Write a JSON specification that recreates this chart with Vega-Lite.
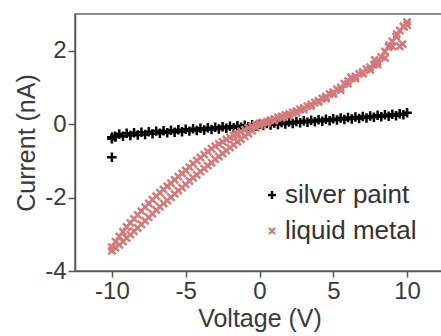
{
  "$schema": "https://vega.github.io/schema/vega-lite/v6.json",
  "width": 369,
  "height": 257,
  "autosize": {"type": "none"},
  "padding": {"left": 75, "top": 14, "right": 0, "bottom": 65},
  "background": "white",
  "config": {
    "font": "Liberation Sans",
    "view": {"stroke": "#666666", "strokeWidth": 1.5},
    "axis": {
      "grid": false,
      "domainColor": "#555555",
      "domainWidth": 1.5,
      "tickColor": "#555555",
      "tickWidth": 1.5,
      "labelColor": "#3a3a3a",
      "titleColor": "#3a3a3a",
      "labelFont": "Liberation Sans",
      "titleFont": "Liberation Sans",
      "titleFontWeight": "normal"
    }
  },
  "data": {
    "values": [
      {"v": -10, "c": -0.9, "s": "silver paint"},
      {"v": -10, "c": -0.4, "s": "silver paint"},
      {"v": -9.8, "c": -0.33, "s": "silver paint"},
      {"v": -10, "c": -0.36, "s": "silver paint"},
      {"v": -9.5, "c": -0.27, "s": "silver paint"},
      {"v": -9, "c": -0.25, "s": "silver paint"},
      {"v": -8.5, "c": -0.235, "s": "silver paint"},
      {"v": -8, "c": -0.22, "s": "silver paint"},
      {"v": -7.5, "c": -0.205, "s": "silver paint"},
      {"v": -7, "c": -0.19, "s": "silver paint"},
      {"v": -6.5, "c": -0.18, "s": "silver paint"},
      {"v": -6, "c": -0.165, "s": "silver paint"},
      {"v": -5.5, "c": -0.15, "s": "silver paint"},
      {"v": -5, "c": -0.14, "s": "silver paint"},
      {"v": -4.5, "c": -0.125, "s": "silver paint"},
      {"v": -4, "c": -0.11, "s": "silver paint"},
      {"v": -3.5, "c": -0.1, "s": "silver paint"},
      {"v": -3, "c": -0.085, "s": "silver paint"},
      {"v": -2.5, "c": -0.07, "s": "silver paint"},
      {"v": -2, "c": -0.06, "s": "silver paint"},
      {"v": -1.5, "c": -0.045, "s": "silver paint"},
      {"v": -1, "c": -0.03, "s": "silver paint"},
      {"v": -0.5, "c": -0.015, "s": "silver paint"},
      {"v": 0, "c": 0.0, "s": "silver paint"},
      {"v": 0.5, "c": 0.015, "s": "silver paint"},
      {"v": 1, "c": 0.03, "s": "silver paint"},
      {"v": 1.5, "c": 0.045, "s": "silver paint"},
      {"v": 2, "c": 0.06, "s": "silver paint"},
      {"v": 2.5, "c": 0.075, "s": "silver paint"},
      {"v": 3, "c": 0.09, "s": "silver paint"},
      {"v": 3.5, "c": 0.105, "s": "silver paint"},
      {"v": 4, "c": 0.12, "s": "silver paint"},
      {"v": 4.5, "c": 0.135, "s": "silver paint"},
      {"v": 5, "c": 0.15, "s": "silver paint"},
      {"v": 5.5, "c": 0.165, "s": "silver paint"},
      {"v": 6, "c": 0.18, "s": "silver paint"},
      {"v": 6.5, "c": 0.195, "s": "silver paint"},
      {"v": 7, "c": 0.21, "s": "silver paint"},
      {"v": 7.5, "c": 0.225, "s": "silver paint"},
      {"v": 8, "c": 0.24, "s": "silver paint"},
      {"v": 8.5, "c": 0.255, "s": "silver paint"},
      {"v": 9, "c": 0.27, "s": "silver paint"},
      {"v": 9.5, "c": 0.285, "s": "silver paint"},
      {"v": 10, "c": 0.31, "s": "silver paint"},
      {"v": -9.75, "c": -0.35, "s": "silver paint"},
      {"v": -9.25, "c": -0.33, "s": "silver paint"},
      {"v": -8.75, "c": -0.31, "s": "silver paint"},
      {"v": -8.25, "c": -0.295, "s": "silver paint"},
      {"v": -7.75, "c": -0.28, "s": "silver paint"},
      {"v": -7.25, "c": -0.265, "s": "silver paint"},
      {"v": -6.75, "c": -0.25, "s": "silver paint"},
      {"v": -6.25, "c": -0.235, "s": "silver paint"},
      {"v": -5.75, "c": -0.22, "s": "silver paint"},
      {"v": -5.25, "c": -0.205, "s": "silver paint"},
      {"v": -4.75, "c": -0.19, "s": "silver paint"},
      {"v": -4.25, "c": -0.175, "s": "silver paint"},
      {"v": -3.75, "c": -0.16, "s": "silver paint"},
      {"v": -3.25, "c": -0.145, "s": "silver paint"},
      {"v": -2.75, "c": -0.13, "s": "silver paint"},
      {"v": -2.25, "c": -0.115, "s": "silver paint"},
      {"v": -1.75, "c": -0.1, "s": "silver paint"},
      {"v": -1.25, "c": -0.085, "s": "silver paint"},
      {"v": -0.75, "c": -0.07, "s": "silver paint"},
      {"v": -0.25, "c": -0.055, "s": "silver paint"},
      {"v": 0.25, "c": -0.04, "s": "silver paint"},
      {"v": 0.75, "c": -0.025, "s": "silver paint"},
      {"v": 1.25, "c": -0.01, "s": "silver paint"},
      {"v": 1.75, "c": 0.005, "s": "silver paint"},
      {"v": 2.25, "c": 0.02, "s": "silver paint"},
      {"v": 2.75, "c": 0.035, "s": "silver paint"},
      {"v": 3.25, "c": 0.05, "s": "silver paint"},
      {"v": 3.75, "c": 0.065, "s": "silver paint"},
      {"v": 4.25, "c": 0.08, "s": "silver paint"},
      {"v": 4.75, "c": 0.095, "s": "silver paint"},
      {"v": 5.25, "c": 0.11, "s": "silver paint"},
      {"v": 5.75, "c": 0.125, "s": "silver paint"},
      {"v": 6.25, "c": 0.14, "s": "silver paint"},
      {"v": 6.75, "c": 0.155, "s": "silver paint"},
      {"v": 7.25, "c": 0.17, "s": "silver paint"},
      {"v": 7.75, "c": 0.185, "s": "silver paint"},
      {"v": 8.25, "c": 0.2, "s": "silver paint"},
      {"v": 8.75, "c": 0.215, "s": "silver paint"},
      {"v": 9.25, "c": 0.23, "s": "silver paint"},
      {"v": 9.75, "c": 0.255, "s": "silver paint"},
      {"v": -10, "c": -3.35, "s": "liquid metal"},
      {"v": -9.75, "c": -3.2, "s": "liquid metal"},
      {"v": -9.5, "c": -3.06, "s": "liquid metal"},
      {"v": -9.25, "c": -2.93, "s": "liquid metal"},
      {"v": -9, "c": -2.8, "s": "liquid metal"},
      {"v": -8.75, "c": -2.69, "s": "liquid metal"},
      {"v": -8.5, "c": -2.58, "s": "liquid metal"},
      {"v": -8.25, "c": -2.47, "s": "liquid metal"},
      {"v": -8, "c": -2.37, "s": "liquid metal"},
      {"v": -7.75, "c": -2.26, "s": "liquid metal"},
      {"v": -7.5, "c": -2.16, "s": "liquid metal"},
      {"v": -7.25, "c": -2.06, "s": "liquid metal"},
      {"v": -7, "c": -1.96, "s": "liquid metal"},
      {"v": -6.75, "c": -1.87, "s": "liquid metal"},
      {"v": -6.5, "c": -1.78, "s": "liquid metal"},
      {"v": -6.25, "c": -1.69, "s": "liquid metal"},
      {"v": -6, "c": -1.61, "s": "liquid metal"},
      {"v": -5.75, "c": -1.52, "s": "liquid metal"},
      {"v": -5.5, "c": -1.43, "s": "liquid metal"},
      {"v": -5.25, "c": -1.34, "s": "liquid metal"},
      {"v": -5, "c": -1.26, "s": "liquid metal"},
      {"v": -4.75, "c": -1.17, "s": "liquid metal"},
      {"v": -4.5, "c": -1.08, "s": "liquid metal"},
      {"v": -4.25, "c": -0.99, "s": "liquid metal"},
      {"v": -4, "c": -0.91, "s": "liquid metal"},
      {"v": -3.75, "c": -0.83, "s": "liquid metal"},
      {"v": -3.5, "c": -0.75, "s": "liquid metal"},
      {"v": -3.25, "c": -0.67, "s": "liquid metal"},
      {"v": -3, "c": -0.6, "s": "liquid metal"},
      {"v": -2.75, "c": -0.54, "s": "liquid metal"},
      {"v": -2.5, "c": -0.48, "s": "liquid metal"},
      {"v": -2.25, "c": -0.42, "s": "liquid metal"},
      {"v": -2, "c": -0.36, "s": "liquid metal"},
      {"v": -1.75, "c": -0.31, "s": "liquid metal"},
      {"v": -1.5, "c": -0.26, "s": "liquid metal"},
      {"v": -1.25, "c": -0.2, "s": "liquid metal"},
      {"v": -1, "c": -0.15, "s": "liquid metal"},
      {"v": -0.75, "c": -0.1, "s": "liquid metal"},
      {"v": -0.5, "c": -0.06, "s": "liquid metal"},
      {"v": -0.25, "c": -0.02, "s": "liquid metal"},
      {"v": 0, "c": 0.02, "s": "liquid metal"},
      {"v": -10, "c": -3.45, "s": "liquid metal"},
      {"v": -9.75, "c": -3.37, "s": "liquid metal"},
      {"v": -9.5, "c": -3.29, "s": "liquid metal"},
      {"v": -9.25, "c": -3.2, "s": "liquid metal"},
      {"v": -9, "c": -3.1, "s": "liquid metal"},
      {"v": -8.75, "c": -3.01, "s": "liquid metal"},
      {"v": -8.5, "c": -2.92, "s": "liquid metal"},
      {"v": -8.25, "c": -2.83, "s": "liquid metal"},
      {"v": -8, "c": -2.73, "s": "liquid metal"},
      {"v": -7.75, "c": -2.63, "s": "liquid metal"},
      {"v": -7.5, "c": -2.54, "s": "liquid metal"},
      {"v": -7.25, "c": -2.44, "s": "liquid metal"},
      {"v": -7, "c": -2.34, "s": "liquid metal"},
      {"v": -6.75, "c": -2.25, "s": "liquid metal"},
      {"v": -6.5, "c": -2.16, "s": "liquid metal"},
      {"v": -6.25, "c": -2.08, "s": "liquid metal"},
      {"v": -6, "c": -1.99, "s": "liquid metal"},
      {"v": -5.75, "c": -1.9, "s": "liquid metal"},
      {"v": -5.5, "c": -1.81, "s": "liquid metal"},
      {"v": -5.25, "c": -1.73, "s": "liquid metal"},
      {"v": -5, "c": -1.64, "s": "liquid metal"},
      {"v": -4.75, "c": -1.55, "s": "liquid metal"},
      {"v": -4.5, "c": -1.46, "s": "liquid metal"},
      {"v": -4.25, "c": -1.38, "s": "liquid metal"},
      {"v": -4, "c": -1.29, "s": "liquid metal"},
      {"v": -3.75, "c": -1.21, "s": "liquid metal"},
      {"v": -3.5, "c": -1.13, "s": "liquid metal"},
      {"v": -3.25, "c": -1.05, "s": "liquid metal"},
      {"v": -3, "c": -0.96, "s": "liquid metal"},
      {"v": -2.75, "c": -0.88, "s": "liquid metal"},
      {"v": -2.5, "c": -0.8, "s": "liquid metal"},
      {"v": -2.25, "c": -0.72, "s": "liquid metal"},
      {"v": -2, "c": -0.64, "s": "liquid metal"},
      {"v": -1.75, "c": -0.56, "s": "liquid metal"},
      {"v": -1.5, "c": -0.48, "s": "liquid metal"},
      {"v": -1.25, "c": -0.41, "s": "liquid metal"},
      {"v": -1, "c": -0.33, "s": "liquid metal"},
      {"v": -0.75, "c": -0.26, "s": "liquid metal"},
      {"v": -0.5, "c": -0.18, "s": "liquid metal"},
      {"v": -0.25, "c": -0.1, "s": "liquid metal"},
      {"v": 0, "c": -0.03, "s": "liquid metal"},
      {"v": 0.25, "c": 0.04, "s": "liquid metal"},
      {"v": 0.5, "c": 0.07, "s": "liquid metal"},
      {"v": 0.75, "c": 0.11, "s": "liquid metal"},
      {"v": 1, "c": 0.14, "s": "liquid metal"},
      {"v": 1.25, "c": 0.18, "s": "liquid metal"},
      {"v": 1.5, "c": 0.21, "s": "liquid metal"},
      {"v": 1.75, "c": 0.25, "s": "liquid metal"},
      {"v": 2, "c": 0.28, "s": "liquid metal"},
      {"v": 2.25, "c": 0.32, "s": "liquid metal"},
      {"v": 2.5, "c": 0.35, "s": "liquid metal"},
      {"v": 2.75, "c": 0.4, "s": "liquid metal"},
      {"v": 3, "c": 0.44, "s": "liquid metal"},
      {"v": 3.25, "c": 0.49, "s": "liquid metal"},
      {"v": 3.5, "c": 0.54, "s": "liquid metal"},
      {"v": 3.75, "c": 0.59, "s": "liquid metal"},
      {"v": 4, "c": 0.64, "s": "liquid metal"},
      {"v": 4.25, "c": 0.7, "s": "liquid metal"},
      {"v": 4.5, "c": 0.75, "s": "liquid metal"},
      {"v": 4.75, "c": 0.82, "s": "liquid metal"},
      {"v": 5, "c": 0.87, "s": "liquid metal"},
      {"v": 5.25, "c": 0.95, "s": "liquid metal"},
      {"v": 5.5, "c": 1.0, "s": "liquid metal"},
      {"v": 5.75, "c": 1.1, "s": "liquid metal"},
      {"v": 6, "c": 1.18, "s": "liquid metal"},
      {"v": 6.25, "c": 1.25, "s": "liquid metal"},
      {"v": 6.5, "c": 1.3, "s": "liquid metal"},
      {"v": 6.75, "c": 1.37, "s": "liquid metal"},
      {"v": 7, "c": 1.42, "s": "liquid metal"},
      {"v": 7.25, "c": 1.5, "s": "liquid metal"},
      {"v": 7.5, "c": 1.55, "s": "liquid metal"},
      {"v": 7.75, "c": 1.62, "s": "liquid metal"},
      {"v": 8, "c": 1.7, "s": "liquid metal"},
      {"v": 8.25, "c": 1.83, "s": "liquid metal"},
      {"v": 8.5, "c": 1.98, "s": "liquid metal"},
      {"v": 8.75, "c": 2.1, "s": "liquid metal"},
      {"v": 9, "c": 2.25, "s": "liquid metal"},
      {"v": 9.25, "c": 2.38, "s": "liquid metal"},
      {"v": 9.5, "c": 2.55, "s": "liquid metal"},
      {"v": 9.75, "c": 2.66, "s": "liquid metal"},
      {"v": 10, "c": 2.78, "s": "liquid metal"},
      {"v": 0.5, "c": 0.03, "s": "liquid metal"},
      {"v": 1, "c": 0.1, "s": "liquid metal"},
      {"v": 1.5, "c": 0.17, "s": "liquid metal"},
      {"v": 2, "c": 0.24, "s": "liquid metal"},
      {"v": 2.5, "c": 0.31, "s": "liquid metal"},
      {"v": 3, "c": 0.4, "s": "liquid metal"},
      {"v": 3.5, "c": 0.49, "s": "liquid metal"},
      {"v": 4, "c": 0.6, "s": "liquid metal"},
      {"v": 4.5, "c": 0.7, "s": "liquid metal"},
      {"v": 5, "c": 0.82, "s": "liquid metal"},
      {"v": 5.5, "c": 0.93, "s": "liquid metal"},
      {"v": 6, "c": 1.1, "s": "liquid metal"},
      {"v": 6.5, "c": 1.24, "s": "liquid metal"},
      {"v": 7, "c": 1.38, "s": "liquid metal"},
      {"v": 7.5, "c": 1.48, "s": "liquid metal"},
      {"v": 8, "c": 1.62, "s": "liquid metal"},
      {"v": 8.5, "c": 1.8, "s": "liquid metal"},
      {"v": 9, "c": 2.12, "s": "liquid metal"},
      {"v": 9.5, "c": 2.12, "s": "liquid metal"},
      {"v": 10, "c": 2.7, "s": "liquid metal"},
      {"v": 9.7, "c": 2.18, "s": "liquid metal"},
      {"v": 9.3, "c": 2.45, "s": "liquid metal"},
      {"v": 8.8, "c": 2.15, "s": "liquid metal"},
      {"v": 7.8, "c": 1.75, "s": "liquid metal"},
      {"v": 6.2, "c": 1.28, "s": "liquid metal"},
      {"v": 9.8, "c": 2.65, "s": "liquid metal"}
    ]
  },
  "mark": {"type": "point", "filled": false, "strokeWidth": 2.5, "opacity": 1, "size": 90},
  "encoding": {
    "x": {
      "field": "v",
      "type": "quantitative",
      "title": "Voltage (V)",
      "scale": {"domain": [-12.5, 12.5], "nice": false},
      "axis": {"values": [-10, -5, 0, 5, 10], "labelExpr": "datum.value + ''", "labelFontSize": 24, "titleFontSize": 25, "tickSize": 6, "labelPadding": 2, "titlePadding": 3, "labelFlush": false}
    },
    "y": {
      "field": "c",
      "type": "quantitative",
      "title": "Current (nA)",
      "scale": {"domain": [-4, 3], "nice": false},
      "axis": {"values": [-4, -2, 0, 2], "labelExpr": "datum.value + ''", "labelFontSize": 24, "titleFontSize": 25, "tickSize": 7, "labelPadding": 2, "titlePadding": 5, "labelFlush": false}
    },
    "color": {
      "field": "s",
      "type": "nominal",
      "scale": {"domain": ["silver paint", "liquid metal"], "range": ["#000000", "#d27b7b"]},
      "legend": {
        "title": null,
        "orient": "none",
        "legendX": 184,
        "legendY": 168,
        "padding": 0,
        "labelFontSize": 26,
        "labelColor": "#333333",
        "labelFont": "Liberation Sans",
        "symbolSize": 64,
        "symbolStrokeWidth": 2.4,
        "labelOffset": 0,
        "rowPadding": 10
      }
    },
    "shape": {
      "field": "s",
      "type": "nominal",
      "scale": {"domain": ["silver paint", "liquid metal"], "range": ["M-1,0H1M0,-1V1", "M-0.75,-0.75L0.75,0.75M-0.75,0.75L0.75,-0.75"]}
    }
  }
}
